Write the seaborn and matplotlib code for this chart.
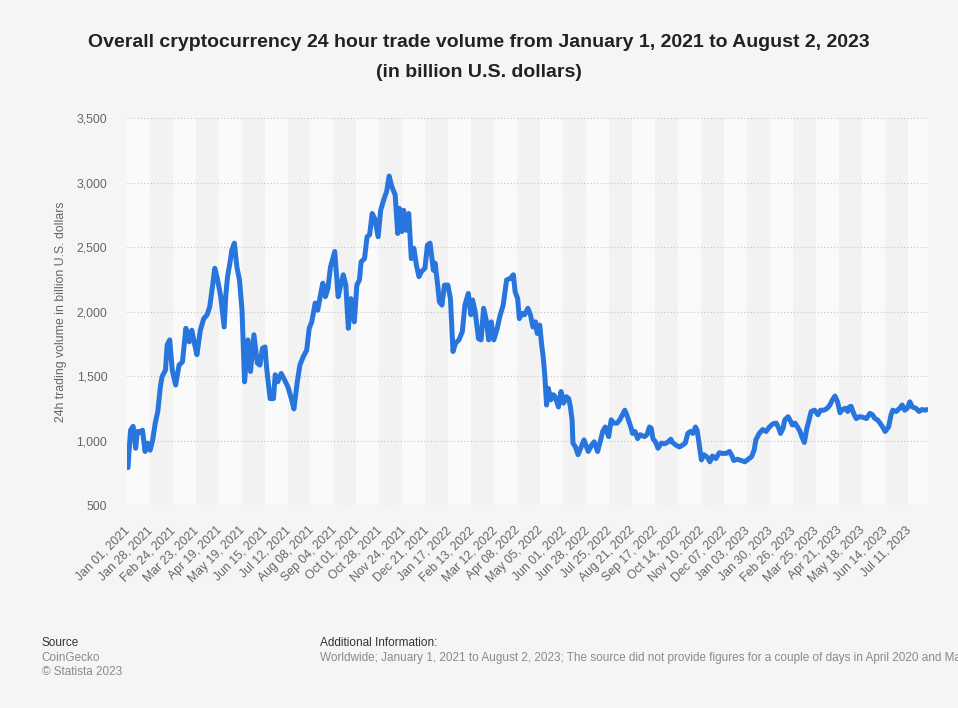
import matplotlib
matplotlib.use("Agg")
import matplotlib.pyplot as plt
import numpy as np
import pandas as pd
import seaborn as sns

# Daily series runs Jan 1, 2021 - Aug 2, 2023; a few April 2021 days are missing.
first_day = "2021-01-01"
last_day = "2023-08-02"
missing_days = ["2021-04-20", "2021-04-21", "2021-04-22"]

# Observation number within the daily series, and 24h volume (billion USD)
obs_2021 = [0, 1, 3, 6, 9, 11, 14, 17, 20, 23, 26, 29, 32, 35, 38, 40, 44, 46, 49, 52,
            56, 60, 64, 68, 72, 75, 78, 81, 85, 89, 93, 96, 99, 102, 105, 109, 113, 115,
            117, 120, 122, 125, 128, 131, 134, 137, 141, 144, 148, 152, 155, 158, 161,
            163, 167, 171, 173, 176, 180, 184, 188, 192, 195, 199, 202, 206, 210, 213,
            216, 220, 223, 227, 229, 232, 235, 238, 243, 247, 250, 253, 256, 259, 262,
            266, 269, 272, 274, 278, 281, 284, 287, 290, 294, 297, 301, 304, 307, 310,
            314, 317, 319, 322, 324, 327, 330, 333, 336, 339, 342, 345, 349, 352, 355,
            359, 361]
vol_2021 = [790, 900, 1080, 1110, 940, 1070, 1065, 1080, 915, 980, 925, 1005, 1135, 1225,
            1415, 1495, 1545, 1740, 1780, 1545, 1430, 1585, 1610, 1870, 1765, 1855, 1755,
            1665, 1855, 1945, 1975, 2035, 2180, 2335, 2255, 2115, 1880, 2130, 2270, 2385,
            2475, 2530, 2345, 2245, 2010, 1455, 1780, 1535, 1820, 1600, 1585, 1715, 1725,
            1560, 1325, 1325, 1510, 1455, 1520, 1470, 1415, 1325, 1245, 1455, 1585, 1650,
            1700, 1870, 1920, 2065, 2010, 2155, 2220, 2115, 2180, 2345, 2465, 2115, 2205,
            2285, 2205, 1870, 2100, 1920, 2205, 2245, 2385, 2410, 2580, 2595, 2760, 2720,
            2580, 2785, 2875, 2930, 3050, 2970, 2905, 2605, 2800, 2620, 2785, 2630, 2760,
            2410, 2490, 2360, 2270, 2310, 2335, 2515, 2530, 2320, 2375]

obs_2022 = [364, 366, 369, 372, 376, 379, 382, 385, 389, 393, 396, 400, 403, 405, 408,
            412, 415, 418, 421, 424, 427, 430, 434, 437, 441, 445, 449, 453, 455, 458,
            460, 463, 466, 470, 473, 476, 479, 481, 484, 486, 488, 490, 492, 494, 497,
            500, 502, 506, 509, 512, 515, 518, 520, 522, 523, 526, 529, 532, 536, 539,
            541, 545, 548, 552, 555, 558, 561, 565, 568, 571, 575, 578, 582, 584, 587,
            591, 593, 596, 599, 602, 607, 610, 613, 615, 617, 620, 623, 627, 631, 635,
            638, 640, 644, 648, 652, 655, 658, 661, 664, 667, 669, 672, 674, 677, 681,
            684, 687, 691, 695, 699, 703, 707, 710, 712, 716, 721, 725]
vol_2022 = [2205, 2075, 2050, 2205, 2205, 2100, 1690, 1755, 1780, 1845, 2050, 2140, 1975,
            2090, 2000, 1790, 1780, 2025, 1935, 1780, 1920, 1780, 1870, 1960, 2050, 2245,
            2255, 2285, 2155, 2100, 1945, 1985, 1975, 2025, 1975, 1880, 1920, 1830, 1895,
            1755, 1650, 1495, 1275, 1405, 1315, 1355, 1340, 1260, 1380, 1290, 1340, 1325,
            1260, 1160, 980, 950, 890, 940, 1005, 950, 915, 965, 990, 915, 990, 1070, 1105,
            1030, 1160, 1135, 1135, 1160, 1210, 1235, 1185, 1105, 1055, 1070, 1015, 1045,
            1030, 1045, 1105, 1095, 1015, 990, 940, 980, 975, 990, 1010, 985, 965, 950,
            965, 980, 1055, 1070, 1055, 1105, 1080, 940, 850, 890, 870, 835, 880, 860, 905,
            900, 900, 915, 880, 845, 855, 845, 835]

obs_2023 = [729, 733, 736, 738, 742, 746, 750, 754, 758, 762, 765, 767, 770, 772, 776,
            778, 781, 784, 787, 790, 792, 795, 798, 800, 803, 807, 811, 814, 818, 822,
            825, 828, 831, 834, 837, 839, 843, 846, 848, 850, 853, 856, 860, 864, 868,
            872, 875, 878, 881, 884, 888, 890, 894, 897, 899, 903, 907, 910, 913, 916,
            919, 922, 926, 930, 933, 937, 939]
vol_2023 = [855, 875, 925, 1005, 1055, 1085, 1070, 1105, 1130, 1135, 1095, 1055, 1095,
            1160, 1185, 1160, 1120, 1135, 1105, 1070, 1030, 985, 1095, 1145, 1225, 1235,
            1200, 1235, 1235, 1250, 1275, 1315, 1345, 1300, 1215, 1235, 1250, 1225, 1260,
            1265, 1210, 1170, 1185, 1180, 1170, 1210, 1200, 1170, 1160, 1135, 1095, 1070,
            1105, 1200, 1235, 1225, 1250, 1275, 1235, 1250, 1300, 1260, 1250, 1225, 1240,
            1235, 1240]

y_ticks = [500, 1000, 1500, 2000, 2500, 3000, 3500]
label_step = 27

title_lines = ["Overall cryptocurrency 24 hour trade volume from January 1, 2021 to August 2, 2023",
               "(in billion U.S. dollars)"]
y_title = "24h trading volume in billion U.S. dollars"
source_lines = ["CoinGecko", "\u00a9 Statista 2023"]
info_text = ("Worldwide; January 1, 2021 to August 2, 2023; The source did not provide "
             "figures for a couple of days in April 2020 and May 2020.")

# --- assemble --------------------------------------------------------------
days = pd.date_range(first_day, last_day, freq="D")
days = days[~days.isin(pd.to_datetime(missing_days))]
n_days = len(days)

df = pd.DataFrame({
    "obs": obs_2021 + obs_2022 + obs_2023,
    "volume": vol_2021 + vol_2022 + vol_2023,
})

sns.set_theme(style="white")
plt.rcParams["font.family"] = ["Liberation Sans", "DejaVu Sans"]

bg = "#f5f5f5"
fig = plt.figure(figsize=(9.58, 7.08), dpi=100, facecolor=bg)
ax = fig.add_axes([0.1323, 0.2867, 0.8365, 0.5466])
ax.set_facecolor("#f2f2f2")

# alternating column bands between label ticks
tick_pos = np.arange(0, n_days, label_step)
x_lo, x_hi = -1.5, n_days - 0.5
for k in range(len(tick_pos) + 1):
    lo = x_lo + k * label_step
    hi = min(lo + label_step, x_hi)
    if lo >= x_hi:
        break
    ax.axvspan(lo, hi, color="#fafafa" if k % 2 == 0 else "#f2f2f2", lw=0, zorder=0.1)

sns.lineplot(data=df, x="obs", y="volume", ax=ax, color="#2876dd", linewidth=3.6,
             solid_joinstyle="round", solid_capstyle="round", zorder=3)

ax.set_xlim(x_lo, x_hi)
ax.set_ylim(y_ticks[0], y_ticks[-1])
ax.set_yticks(y_ticks)
ax.set_yticklabels([f"{v:,}" for v in y_ticks])
ax.set_xticks(tick_pos)
ax.set_xticklabels([d.strftime("%b %d, %Y") for d in days[tick_pos]],
                   rotation=45, ha="right", va="center", rotation_mode="anchor")

ax.set_axisbelow(True)
ax.yaxis.grid(True, linestyle=(0, (1, 2)), color="#c4c4c4", linewidth=0.8)
ax.xaxis.grid(False)
for s in ax.spines.values():
    s.set_visible(False)
ax.tick_params(axis="x", length=0, pad=17, labelsize=8.8, labelcolor="#666666")
ax.tick_params(axis="y", length=0, pad=14, labelsize=8.8, labelcolor="#666666")

ax.set_xlabel("")
ax.set_ylabel(y_title, fontsize=8.8, color="#666666")
ax.yaxis.set_label_coords(-0.0745, 0.5)

fig.text(0.5, 1 - 46.7 / 708, title_lines[0], ha="center", va="baseline",
         fontsize=14, fontweight="bold", color="#222222")
fig.text(0.5, 1 - 77.3 / 708, title_lines[1], ha="center", va="baseline",
         fontsize=14, fontweight="bold", color="#222222")

fig.text(41.7 / 958, 1 - 646 / 708, "Source", fontsize=8.5, color="#333333", va="baseline")
fig.text(41.7 / 958, 1 - 660.7 / 708, source_lines[0], fontsize=8.5, color="#8a8a8a", va="baseline")
fig.text(41.7 / 958, 1 - 675 / 708, source_lines[1], fontsize=8.5, color="#8a8a8a", va="baseline")
fig.text(320 / 958, 1 - 646 / 708, "Additional Information:", fontsize=8.5, color="#333333", va="baseline")
fig.text(320 / 958, 1 - 660.7 / 708, info_text, fontsize=8.5, color="#8a8a8a", va="baseline")

fig.savefig("out.png", dpi=100, facecolor=bg)
